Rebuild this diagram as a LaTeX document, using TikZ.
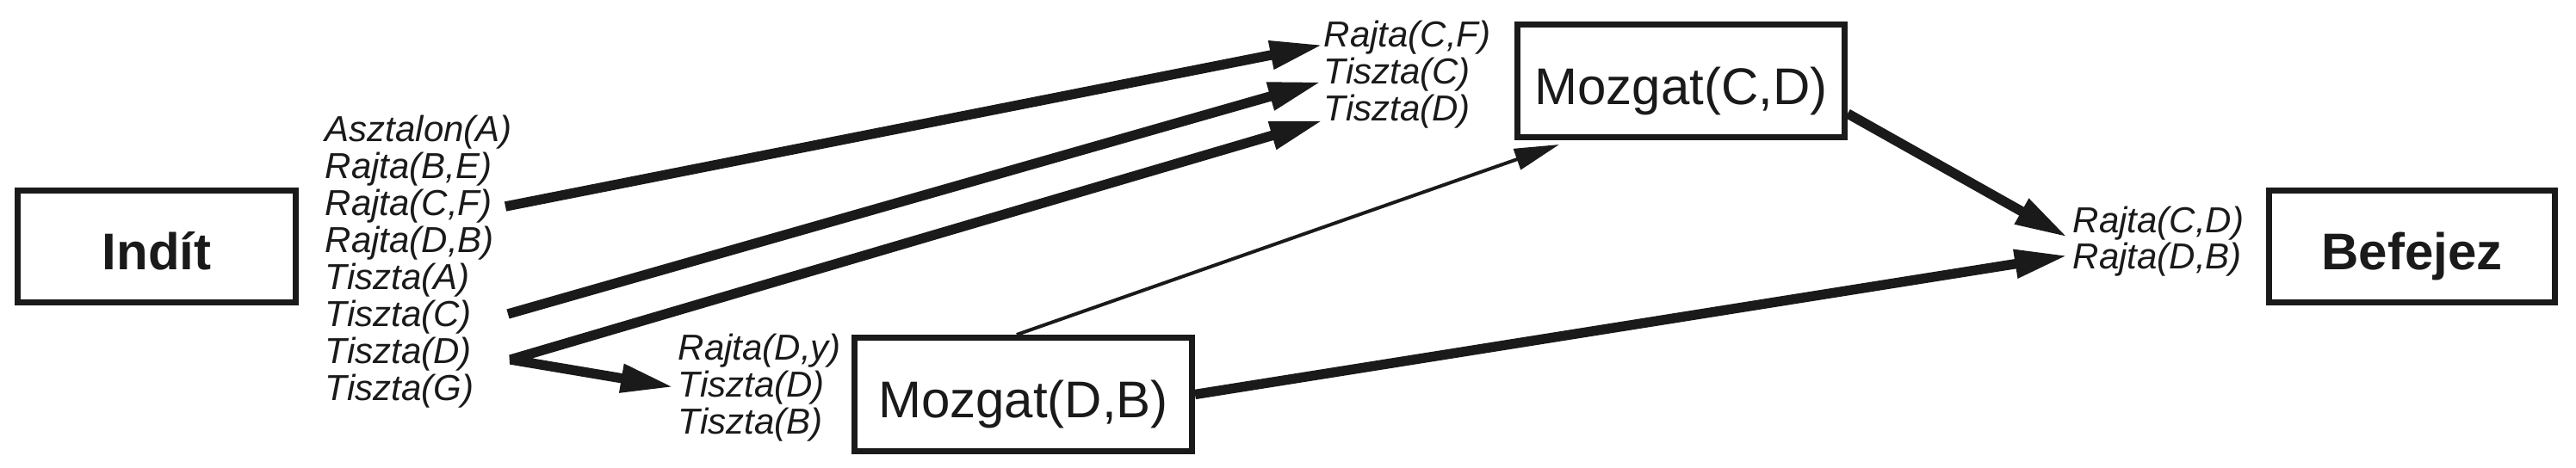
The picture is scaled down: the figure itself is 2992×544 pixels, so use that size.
\documentclass[tikz,border=0pt]{standalone}
\usepackage{fontspec}
\setmainfont{Liberation Sans}
\usetikzlibrary{arrows.meta}
\definecolor{ink}{RGB}{26,26,26}
\tikzset{
  bigtip/.tip={Triangle[length=15.5pt,width=7.75pt]},
  smalltip/.tip={Triangle[length=13pt,width=6.25pt]},
}
\begin{document}
\begin{tikzpicture}[x=0.25pt, y=-0.25pt,
  box/.style={draw=ink, text=ink, line width=1.75pt, inner sep=0pt,
    text height=13.6pt, text depth=0pt, font=\fontsize{15}{18}\selectfont},
  lbl/.style={anchor=base west, inner sep=0pt, text=ink,
    font=\fontsize{10.5}{10.75}\selectfont\itshape},
  heavyarrow/.style={draw=ink, line width=2.85pt, -bigtip},
  lightarrow/.style={draw=ink, line width=1pt, -smalltip},
]
\useasboundingbox (0,0) rectangle (2992,544);

% boxes
\node[box, minimum width=80.75pt, minimum height=32.5pt] (start) at (182,286.5) {\textbf{Indít}};
\node[box, minimum width=95pt, minimum height=32.75pt] (mcd) at (1952.5,94) {Mozgat(C,D)};
\node[box, minimum width=98pt, minimum height=33pt] (mdb) at (1188.5,458.5) {Mozgat(D,B)};
\node[box, minimum width=83pt, minimum height=32.5pt] (finish) at (2801.5,286.5) {\textbf{Befejez}};

% initial state list
\node[lbl] (l1) at (377,165) {Asztalon(A)};
\node[lbl] (l2) at (377,208) {Rajta(B,E)};
\node[lbl] (l3) at (377,251) {Rajta(C,F)};
\node[lbl] (l4) at (377,294) {Rajta(D,B)};
\node[lbl] (l5) at (377,337) {Tiszta(A)};
\node[lbl] (l6) at (377,380) {Tiszta(C)};
\node[lbl] (l7) at (377,423) {Tiszta(D)};
\node[lbl] (l8) at (377,466) {Tiszta(G)};

% preconditions of Mozgat(C,D)
\node[lbl] (t1) at (1537,55) {Rajta(C,F)};
\node[lbl] (t2) at (1537,98) {Tiszta(C)};
\node[lbl] (t3) at (1537,141) {Tiszta(D)};

% preconditions of Mozgat(D,B)
\node[lbl] (d1) at (787,419) {Rajta(D,y)};
\node[lbl] (d2) at (787,462) {Tiszta(D)};
\node[lbl] (d3) at (787,505) {Tiszta(B)};

% goal
\node[lbl] (c1) at (2407,271) {Rajta(C,D)};
\node[lbl] (c2) at (2407,313) {Rajta(D,B)};

% arrow start points
\coordinate (s1) at (587,240);
\coordinate (s2) at (590,365);
\coordinate (s3) at (593,418);
\coordinate (m5) at (1811,168);

% connectors
\draw[heavyarrow] (s1) -- ([yshift=0.75pt]t1.base west);
\draw[heavyarrow] (s2) -- ([xshift=-0.5pt,yshift=0.75pt]t2.base west);
\draw[heavyarrow, bigtip-bigtip, line join=bevel]
  ([yshift=0.25pt]t3.base west) -- (s3) -- ([xshift=-1pt,yshift=3pt]d2.base west);
\draw[lightarrow] ([xshift=-1.9pt]mdb.north) -- (m5);
\draw[heavyarrow] ([yshift=-9.5pt]mcd.east) -- ([xshift=-1.25pt,yshift=-1.25pt]c1.base west);
\draw[heavyarrow] (mdb.east) -- ([xshift=-1.25pt,yshift=4pt]c2.base west);
\end{tikzpicture}
\end{document}
